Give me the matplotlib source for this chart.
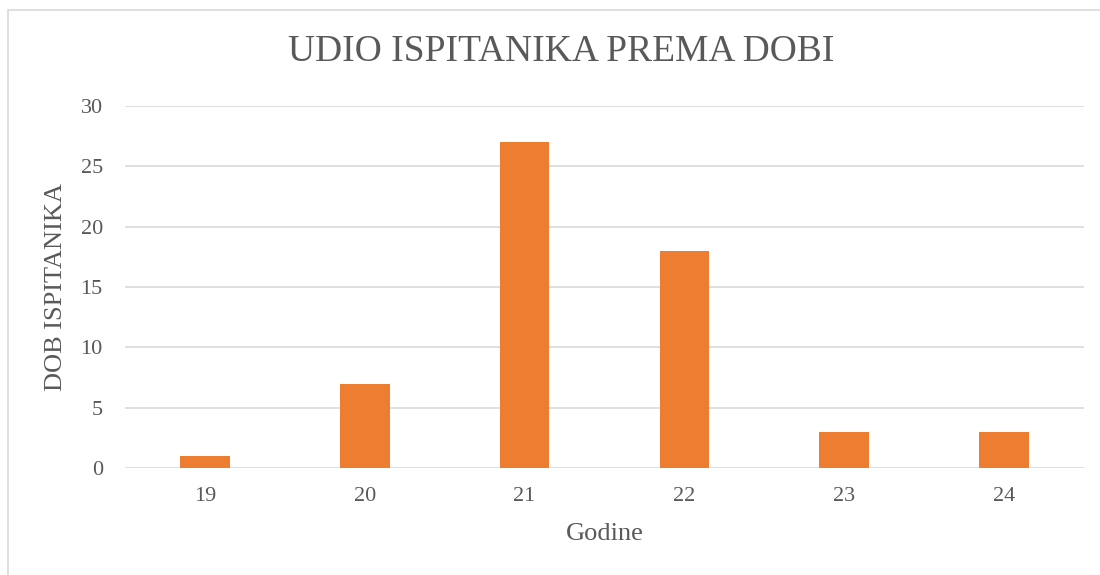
import matplotlib
matplotlib.use("Agg")
import matplotlib.pyplot as plt
from matplotlib.patches import Rectangle

godine = ["19", "20", "21", "22", "23", "24"]
broj = [1, 7, 27, 18, 3, 3]

plt.rcParams['font.family'] = ['Liberation Serif', 'DejaVu Serif']
text_col = '#595959'

fig = plt.figure(figsize=(11, 5.75), dpi=100)
ax = fig.add_axes([125 / 1100, 1 - 468 / 575, (1084 - 125) / 1100, (468 - 106) / 575])

# chart area border
fig.patches.append(Rectangle((8 / 1100, -0.05), 1.2, 1 - 10 / 575 + 0.05,
                             transform=fig.transFigure, fill=False,
                             edgecolor='#d9d9d9', linewidth=1.2))

x = range(len(godine))
ax.bar(x, broj, width=0.31, color='#ED7D31', zorder=3)
ax.set_xlim(-0.5, len(godine) - 0.5)
ax.set_ylim(0, 30)
ax.set_yticks(range(0, 31, 5))
ax.set_xticks(list(x))
ax.set_xticklabels(godine)
ax.grid(axis='y', color='#d9d9d9', linewidth=1.2, zorder=0)
for s in ax.spines.values():
    s.set_visible(False)
ax.tick_params(length=0, labelsize=16, colors=text_col)
ax.tick_params(axis='x', pad=14)
ax.tick_params(axis='y', pad=16)

ax.set_xlabel('Godine', fontsize=19, color=text_col)
ax.set_ylabel('DOB ISPITANIKA', fontsize=19, color=text_col)
ax.xaxis.set_label_coords(0.5, -0.152)
ax.yaxis.set_label_coords(-0.06, 0.5)
fig.text(0.51, 1 - 52 / 575, 'UDIO ISPITANIKA PREMA DOBI', fontsize=27,
         color=text_col, ha='center', va='center')

fig.savefig('out.png', dpi=100)
